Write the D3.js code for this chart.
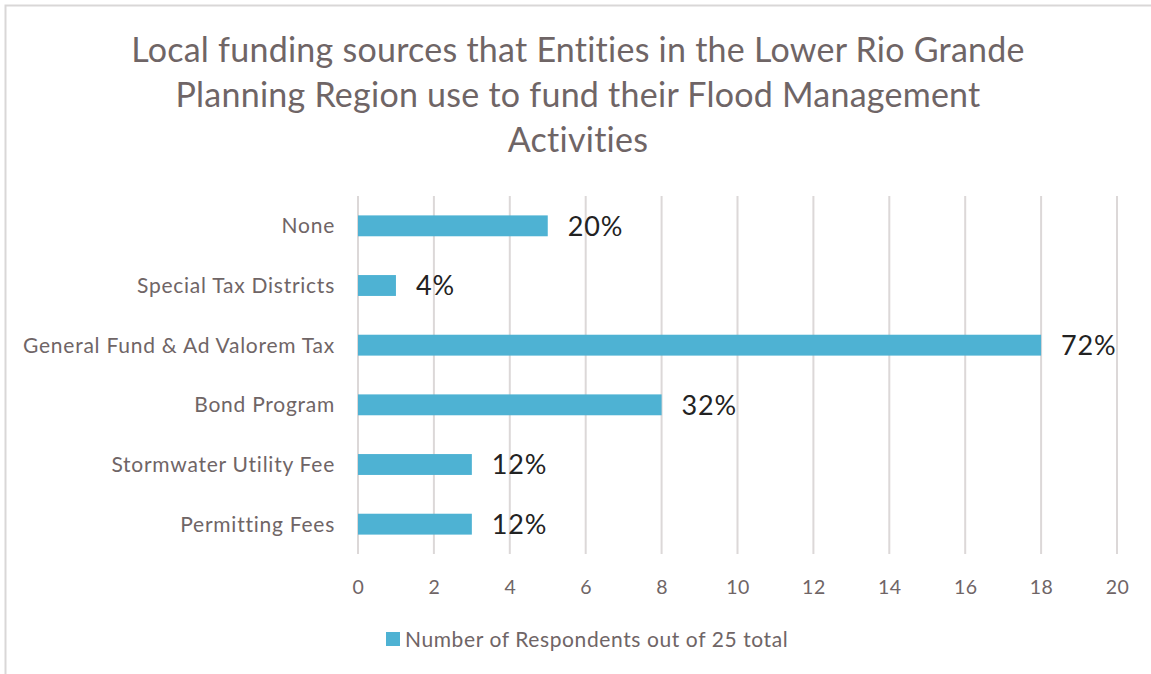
<!DOCTYPE html>
<html>
<head>
<meta charset="utf-8">
<script src="https://cdn.jsdelivr.net/npm/d3@7"></script>
<style>
  html, body { margin: 0; padding: 0; background: #ffffff; }
  svg { display: block; }
  text { font-family: Lato, "Open Sans", sans-serif; }
</style>
</head>
<body>
<svg id="chart" width="1151" height="674"></svg>
<script>
// Survey responses: number of entities (out of 25) using each local funding source
const categories = [
  "None",
  "Special Tax Districts",
  "General Fund & Ad Valorem Tax",
  "Bond Program",
  "Stormwater Utility Fee",
  "Permitting Fees"
];
const respondents = [5, 1, 18, 8, 3, 3];
const totalRespondents = 25;
const xTicks = [0, 2, 4, 6, 8, 10, 12, 14, 16, 18, 20];
const titleLines = [
  "Local funding sources that Entities in the Lower Rio Grande",
  "Planning Region use to fund their Flood Management",
  "Activities"
];
const legendLabel = "Number of Respondents out of 25 total";

const W = 1151, H = 674;
const plot = { left: 358, right: 1117, top: 196, bottom: 554 };
const barColor = "#4EB2D3";
const gridColor = "#DCD8D8";
const textGray = "#6F6566";

const svg = d3.select("#chart");

// outer chart frame
svg.append("rect")
  .attr("x", 5.5).attr("y", 5.5)
  .attr("width", W + 10).attr("height", H + 10)
  .attr("fill", "#ffffff")
  .attr("stroke", "#D9D7D7")
  .attr("stroke-width", 2);

const x = d3.scaleLinear().domain([0, 20]).range([plot.left, plot.right]);
const y = d3.scaleBand()
  .domain(categories)
  .range([plot.top, plot.bottom])
  .paddingInner(0.65)
  .paddingOuter(0.325);

// title
svg.append("g")
  .selectAll("text")
  .data(titleLines)
  .join("text")
  .attr("x", 578)
  .attr("y", (d, i) => 62 + i * 45)
  .attr("text-anchor", "middle")
  .attr("font-size", 34)
  .attr("letter-spacing", 0.25)
  .attr("fill", textGray)
  .text(d => d);

// vertical gridlines
svg.append("g")
  .selectAll("line")
  .data(xTicks)
  .join("line")
  .attr("x1", d => x(d)).attr("x2", d => x(d))
  .attr("y1", plot.top).attr("y2", plot.bottom)
  .attr("stroke", gridColor)
  .attr("stroke-width", 2);

// x axis tick labels
const xAxis = d3.axisBottom(x).tickValues(xTicks).tickSize(0).tickPadding(0);
const gx = svg.append("g")
  .attr("transform", `translate(0, ${plot.bottom + 40})`)
  .call(xAxis);
gx.select(".domain").remove();
gx.selectAll("text")
  .attr("font-family", "Lato, sans-serif")
  .attr("font-size", 19.5)
  .attr("letter-spacing", 0.5)
  .attr("fill", textGray)
  .attr("dy", 0)
  .attr("y", 0);

// category labels
const yAxis = d3.axisLeft(y).tickSize(0).tickPadding(0);
const gy = svg.append("g")
  .attr("transform", `translate(${plot.left - 23}, 0)`)
  .call(yAxis);
gy.select(".domain").remove();
gy.selectAll("text")
  .attr("font-family", "Lato, sans-serif")
  .attr("font-size", 21)
  .attr("letter-spacing", 0.75)
  .attr("fill", textGray)
  .attr("dy", "0.35em");

// bars
const rows = categories.map((c, i) => ({ cat: c, value: respondents[i] }));
svg.append("g")
  .selectAll("rect")
  .data(rows)
  .join("rect")
  .attr("x", x(0))
  .attr("y", d => y(d.cat))
  .attr("width", d => x(d.value) - x(0))
  .attr("height", y.bandwidth())
  .attr("fill", barColor);

// percentage labels
svg.append("g")
  .selectAll("text")
  .data(rows)
  .join("text")
  .attr("x", d => x(d.value) + 20)
  .attr("y", d => y(d.cat) + y.bandwidth() / 2)
  .attr("dy", "0.36em")
  .attr("font-size", 27)
  .attr("letter-spacing", 0.8)
  .attr("fill", "#222222")
  .text(d => Math.round(d.value / totalRespondents * 100) + "%");

// legend
const lg = svg.append("g").attr("transform", "translate(386, 632)");
lg.append("rect").attr("width", 14).attr("height", 14).attr("fill", barColor);
lg.append("text")
  .attr("x", 19).attr("y", 7)
  .attr("dy", "0.36em")
  .attr("font-size", 21)
  .attr("letter-spacing", 0.6)
  .attr("fill", textGray)
  .text(legendLabel);
</script>
</body>
</html>
